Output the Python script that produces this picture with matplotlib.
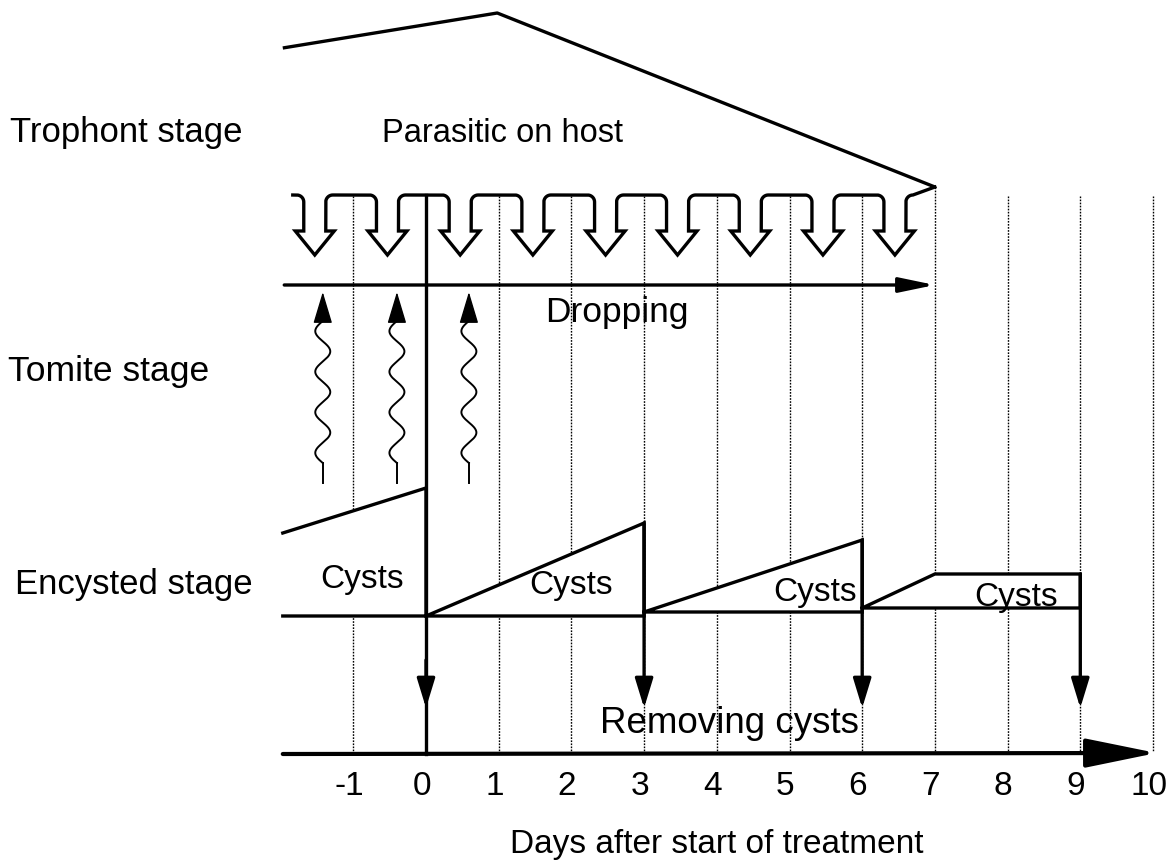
import numpy as np
import matplotlib
matplotlib.use("Agg")
import matplotlib.pyplot as plt
from matplotlib.patches import Polygon

plt.rcParams['font.family'] = ['Liberation Sans', 'DejaVu Sans']

# ---------------- data ----------------
tick_days = [-1, 0, 1, 2, 3, 4, 5, 6, 7, 8, 9, 10]
tick_labels = ['-1', '0', '1', '2', '3', '4', '5', '6', '7', '8', '9', '10']
grid_days = [-1, 1, 2, 3, 4, 5, 6, 7, 8, 9, 10]

parasitic_days = [-1.97, 0.98, 7.0]
parasitic_level = [48, 13, 187]

hook_days = [-1.53, -0.53, 0.47, 1.47, 2.47, 3.46, 4.46, 5.46, 6.45]
tomite_days = [-1.42, -0.40, 0.59]

cyst_start_day = [-1.97, 0, 3, 6]
cyst_rise_day = [0, 3, 6, 7]
cyst_end_day = [0, 3, 6, 9]
cyst_start_level = [533, 616, 612, 608]
cyst_top_level = [488, 523, 540, 574]
cyst_base_level = [616, 616, 612, 608]
cyst_label_day = [-0.88, 1.99, 5.35, 8.12]
cyst_label_level = [588, 594, 601, 606]

removal_days = [0, 3, 6, 9]

# ---------------- layout helpers ----------------
PX0 = 426.0   # pixel column of day 0
PXD = 72.7    # pixels per day


def d(px):
    return (px - PX0) / PXD


def wd(px):
    return px / PXD


fig = plt.figure(figsize=(11.74, 8.64), dpi=100)
ax = fig.add_axes([0, 0, 1, 1])
ax.set_xlim(d(0), d(1174))
ax.set_ylim(864, 0)
ax.axis('off')

K = 'black'
LW = 2.4
FS = 24

# dotted day grid
for g in grid_days:
    top = 187 if g == 7 else 196
    ax.plot([g, g], [top, 752], color=K, lw=1.0, ls=(0, (1.2, 1.0)), zorder=1)

# parasitic (trophont) line
ax.plot(parasitic_days, parasitic_level, color=K, lw=LW, zorder=3,
        solid_capstyle='butt')

# hook arrows chain
w, h = wd(11), wd(19.5)
rx, ry = wd(7), 7
y_top, y_barb, y_tip = 195, 231, 255
th = np.linspace(0, np.pi / 2, 10)
xs, ys = [], []
c0 = hook_days[0]
x1 = c0 - w
xs += [x1 - rx - wd(4)]
ys += [y_top]
xs += list(x1 - rx + rx * np.sin(th))
ys += list(y_top + ry * (1 - np.cos(th)))
for i, c in enumerate(hook_days):
    xs += [c - w, c - h, c, c + h, c + w, c + w]
    ys += [y_barb, y_barb, y_tip, y_barb, y_barb, y_top + ry]
    xs += list(c + w + rx * (1 - np.cos(th)))
    ys += list(y_top + ry * (1 - np.sin(th)))
    if i < len(hook_days) - 1:
        xn = hook_days[i + 1] - w
        xs += list(xn - rx + rx * np.sin(th))
        ys += list(y_top + ry * (1 - np.cos(th)))
    else:
        xs += [parasitic_days[-1]]
        ys += [parasitic_level[-1]]
ax.plot(xs, ys, color=K, lw=LW, zorder=3, solid_joinstyle='miter')

# dropping arrow
ax.annotate('', xy=(7.0, 285), xytext=(-1.95, 285),
            arrowprops=dict(arrowstyle='-|>,head_length=2.16,head_width=0.45',
                            color=K, lw=LW, shrinkA=0, shrinkB=0,
                            mutation_scale=10), zorder=3)

# tomite wavy arrows
t = np.linspace(0, 1, 300)
for c in tomite_days:
    yb, yt = 463, 321
    yy = yb - t * (yb - yt)
    xx = c - wd(7.5) * np.sin(2 * np.pi * 3.5 * t)
    ax.plot(xx, yy, color=K, lw=1.4, zorder=3)
    ax.plot([c, c], [483, yb], color=K, lw=1.4, zorder=3)
    ax.annotate('', xy=(c, 292), xytext=(c, 321),
                arrowprops=dict(arrowstyle='-|>,head_length=2.0,head_width=0.6',
                                color=K, lw=1.0, shrinkA=0, shrinkB=0,
                                mutation_scale=10), zorder=3)

# cysts
for s, r, e, sl, tl, bl in zip(cyst_start_day, cyst_rise_day, cyst_end_day,
                               cyst_start_level, cyst_top_level, cyst_base_level):
    poly = [(s, sl), (r, tl), (e, tl), (e, bl), (s, bl)]
    ax.add_patch(Polygon(poly, closed=True, facecolor='white',
                         edgecolor='none', zorder=2))
    px, py = zip(*poly)
    ax.plot(px, py, color=K, lw=LW, zorder=3, solid_joinstyle='miter')

for cx, cy in zip(cyst_label_day, cyst_label_level):
    ax.text(cx, cy, 'Cysts', fontsize=FS, ha='center', va='baseline', zorder=4)

# removal arrows
for rd, top in zip(removal_days, [195] + cyst_top_level[1:]):
    if rd == 0:
        ax.plot([rd, rd], [top, 754], color=K, lw=LW, zorder=3)
        ax.annotate('', xy=(rd, 708), xytext=(rd, 660),
                    arrowprops=dict(arrowstyle='-|>,head_length=1.8,head_width=0.55',
                                    color=K, lw=LW, shrinkA=0, shrinkB=0,
                                    mutation_scale=10), zorder=3)
    else:
        ax.annotate('', xy=(rd, 708), xytext=(rd, top),
                    arrowprops=dict(arrowstyle='-|>,head_length=1.8,head_width=0.55',
                                    color=K, lw=LW, shrinkA=0, shrinkB=0,
                                    mutation_scale=10), zorder=3)

# time axis
ax.annotate('', xy=(10.05, 753), xytext=(-1.97, 754),
            arrowprops=dict(arrowstyle='-|>,head_length=4.4,head_width=0.9',
                            color=K, lw=3.0, shrinkA=0, shrinkB=0,
                            mutation_scale=10), zorder=3)

for td, tl in zip(tick_days, tick_labels):
    ax.text(td - 0.06, 795, tl, fontsize=FS, ha='center', va='baseline')

# texts
ax.text(d(10), 142, 'Trophont stage', fontsize=25, ha='left', va='baseline')
ax.text(d(8), 381, 'Tomite stage', fontsize=25.5, ha='left', va='baseline')
ax.text(d(15), 594, 'Encysted stage', fontsize=25, ha='left', va='baseline')
ax.text(d(503), 142, 'Parasitic on host', fontsize=23.5, ha='center', va='baseline')
ax.text(d(617), 322, 'Dropping', fontsize=25.5, ha='center', va='baseline', zorder=4)
ax.text(d(729), 733, 'Removing cysts', fontsize=26.5, ha='center', va='baseline', zorder=4)
ax.text(d(717), 853, 'Days after start of treatment', fontsize=24,
        ha='center', va='baseline')

fig.savefig('out.png', dpi=100)
